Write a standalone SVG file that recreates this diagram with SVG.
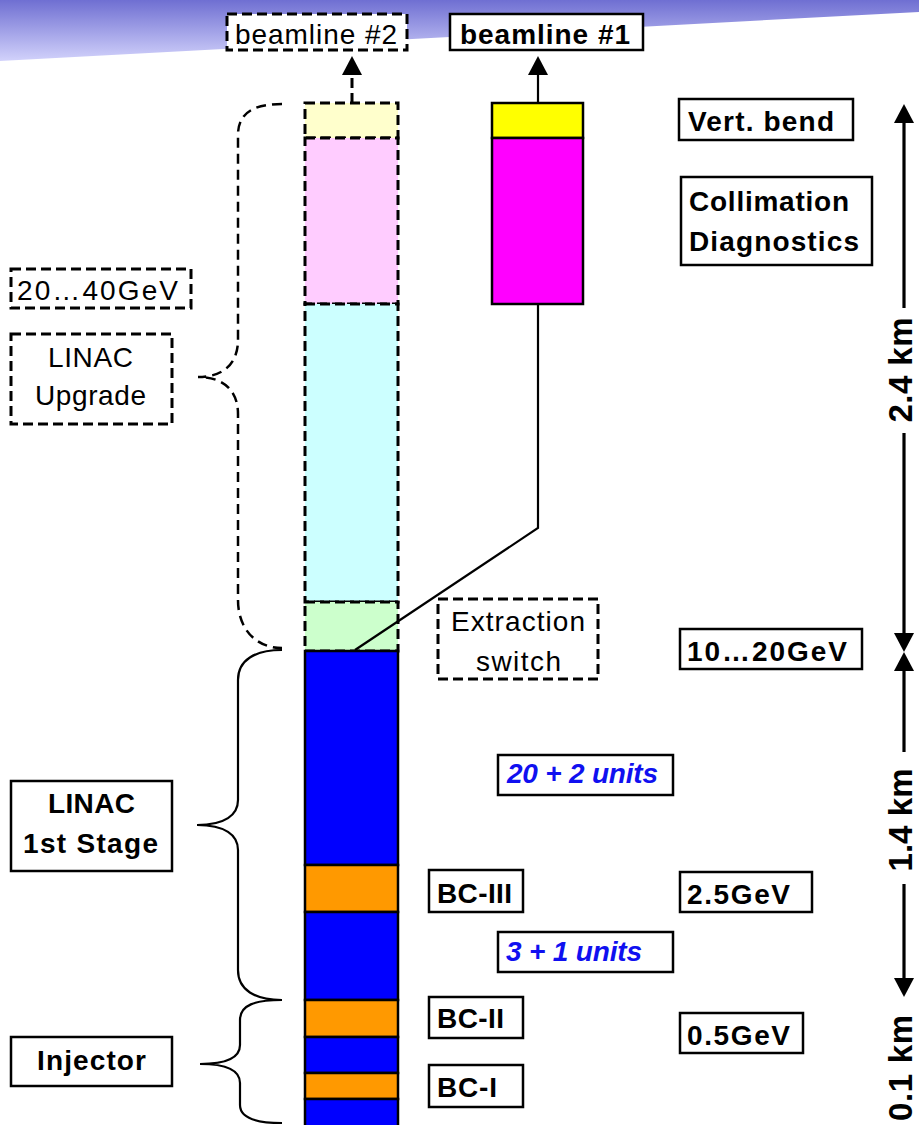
<svg xmlns="http://www.w3.org/2000/svg" width="919" height="1125" viewBox="0 0 919 1125">
  <defs>
    <linearGradient id="band" x1="0" y1="0" x2="0" y2="61" gradientUnits="userSpaceOnUse">
      <stop offset="0" stop-color="#6f6fd2"/>
      <stop offset="1" stop-color="#d2d2fb"/>
    </linearGradient>
    <marker id="head" viewBox="0 0 20 20" refX="0" refY="10" markerWidth="20" markerHeight="20" markerUnits="userSpaceOnUse" orient="auto">
      <path d="M0,0 L19,10 L0,20 z" fill="#000" stroke="none"/>
    </marker>
    <style>
      .seg { stroke: #000; stroke-width: 2.5; }
      .segd { stroke: #000; stroke-width: 3; stroke-dasharray: 10 5; }
      .box { fill: #fff; stroke: #000; stroke-width: 2.5; }
      .boxd { fill: #fff; stroke: #000; stroke-width: 3; stroke-dasharray: 10 5; }
      .lb { font-family: "Liberation Sans", Arial, sans-serif; font-weight: bold; font-size: 28px; fill: #000; }
      .lr { font-family: "Liberation Sans", Arial, sans-serif; font-size: 28px; fill: #000; }
      .lu { font-family: "Liberation Sans", Arial, sans-serif; font-weight: bold; font-style: italic; font-size: 28px; fill: #1010f0; }
      .dim { font-family: "Liberation Sans", Arial, sans-serif; font-weight: bold; font-size: 33px; fill: #000; }
      .conn { fill: none; stroke: #000; stroke-width: 2.2; }
      .connd { fill: none; stroke: #000; stroke-width: 3; stroke-dasharray: 10 5; }
      .brace { fill: none; stroke: #000; stroke-width: 2.2; }
      .braced { fill: none; stroke: #000; stroke-width: 2.5; stroke-dasharray: 10 6; }
      .dline { fill: none; stroke: #000; stroke-width: 3.2; }
    </style>
  </defs>

  <!-- slanted title band -->
  <polygon points="0,0 919,0 919,12 0,61" fill="url(#band)"/>

  <!-- main linac column -->
  <g id="column">
    <rect x="305" y="103" width="93" height="35" fill="#ffffcc" class="segd"/>
    <rect x="305" y="138" width="93" height="166" fill="#ffccff" class="segd"/>
    <rect x="305" y="304" width="93" height="298" fill="#ccffff" class="segd"/>
    <rect x="305" y="602" width="93" height="49" fill="#ccffcc" class="segd"/>
    <rect x="305" y="651" width="93" height="214" fill="#0000ff" class="seg"/>
    <rect x="305" y="865" width="93" height="47" fill="#ff9900" class="seg"/>
    <rect x="305" y="912" width="93" height="88" fill="#0000ff" class="seg"/>
    <rect x="305" y="1000" width="93" height="37" fill="#ff9900" class="seg"/>
    <rect x="305" y="1037" width="93" height="36" fill="#0000ff" class="seg"/>
    <rect x="305" y="1073" width="93" height="26" fill="#ff9900" class="seg"/>
    <rect x="305" y="1099" width="93" height="30" fill="#0000ff" class="seg"/>
  </g>

  <!-- beamline #1 branch -->
  <g id="branch1">
    <rect x="492" y="103" width="91" height="35" fill="#ffff00" class="seg"/>
    <rect x="492" y="138" width="91" height="166" fill="#ff00ff" class="seg"/>
  </g>

  <!-- connectors -->
  <g id="connectors">
    <line x1="352" y1="103" x2="352" y2="75" class="connd" marker-end="url(#head)"/>
    <line x1="538" y1="103" x2="538" y2="75" class="conn" marker-end="url(#head)"/>
    <polyline points="538,304 538,528 355,650" class="conn"/>
  </g>

  <!-- braces -->
  <g id="braces">
    <path class="braced" d="M282,104 C255,104 238,112 238,135 L238,340 C238,362 225,377 198,377 C225,377 238,392 238,414 L238,600 C238,628 255,648 282,648"/>
    <path class="brace" d="M282,650 C255,650 238,660 238,680 L238,800 C238,815 225,825 197,825 C225,825 238,835 238,850 L238,970 C238,990 255,1000 282,1000"/>
    <path class="brace" d="M282,1000 C255,1000 240,1005 240,1020 L240,1045 C240,1057 228,1064 200,1064 C228,1064 240,1071 240,1083 L240,1105 C240,1118 255,1123 282,1123"/>
  </g>

  <!-- length scale -->
  <g id="scale">
    <line x1="904" y1="308" x2="904" y2="123" class="dline" marker-end="url(#head)"/>
    <line x1="904" y1="433" x2="904" y2="633" class="dline" marker-end="url(#head)"/>
    <line x1="904" y1="752" x2="904" y2="671" class="dline" marker-end="url(#head)"/>
    <line x1="904" y1="884" x2="904" y2="978" class="dline" marker-end="url(#head)"/>
    <text class="dim" transform="translate(912,370) rotate(-90)" text-anchor="middle" textLength="105" lengthAdjust="spacing">2.4 km</text>
    <text class="dim" transform="translate(912,820) rotate(-90)" text-anchor="middle" textLength="103" lengthAdjust="spacing">1.4 km</text>
    <text class="dim" transform="translate(912,1068) rotate(-90)" text-anchor="middle" textLength="106" lengthAdjust="spacing">0.1 km</text>
  </g>

  <g id="beamline2">
    <rect x="227" y="14" width="180" height="36" class="boxd"/>
    <text class="lr" x="235" y="44" font-size="26" textLength="162" lengthAdjust="spacing">beamline #2</text>
  </g>
  <g id="beamline1">
    <rect x="450" y="14" width="193" height="36" class="box"/>
    <text class="lb" x="460" y="44" font-size="26" textLength="170" lengthAdjust="spacing">beamline #1</text>
  </g>

  <g id="vert-bend">
    <rect x="679" y="99" width="174" height="41" class="box"/>
    <text class="lb" x="688" y="131" textLength="146" lengthAdjust="spacing">Vert. bend</text>
  </g>
  <g id="collimation">
    <rect x="681" y="177" width="191" height="88" class="box"/>
    <text class="lb" x="689" y="211" textLength="160" lengthAdjust="spacing">Collimation</text>
    <text class="lb" x="689" y="251" textLength="170" lengthAdjust="spacing">Diagnostics</text>
  </g>

  <g id="energy-40">
    <rect x="11" y="269" width="180" height="39" class="boxd"/>
    <text class="lr" x="17" y="300" textLength="161" lengthAdjust="spacing">20…40GeV</text>
  </g>
  <g id="linac-upgrade">
    <rect x="11" y="334" width="161" height="90" class="boxd"/>
    <text class="lr" x="48" y="367" textLength="85" lengthAdjust="spacing">LINAC</text>
    <text class="lr" x="35" y="405" textLength="111" lengthAdjust="spacing">Upgrade</text>
  </g>

  <g id="extraction-switch">
    <rect x="438" y="599" width="160" height="80" class="boxd"/>
    <text class="lr" x="451" y="631" textLength="134" lengthAdjust="spacing">Extraction</text>
    <text class="lr" x="476" y="671" textLength="85" lengthAdjust="spacing">switch</text>
  </g>
  <g id="energy-20">
    <rect x="680" y="629" width="182" height="40" class="box"/>
    <text class="lb" x="687" y="661" textLength="160" lengthAdjust="spacing">10…20GeV</text>
  </g>

  <g id="units-22">
    <rect x="498" y="755" width="175" height="40" class="box"/>
    <text class="lu" x="507" y="783" textLength="151" lengthAdjust="spacing">20 + 2 units</text>
  </g>
  <g id="linac-stage1">
    <rect x="11" y="781" width="161" height="90" class="box"/>
    <text class="lb" x="48" y="813" textLength="87" lengthAdjust="spacing">LINAC</text>
    <text class="lb" x="23" y="853" textLength="135" lengthAdjust="spacing">1st Stage</text>
  </g>

  <g id="bc3">
    <rect x="429" y="870" width="94" height="42" class="box"/>
    <text class="lb" x="437" y="903" textLength="75" lengthAdjust="spacing">BC-III</text>
  </g>
  <g id="energy-2-5">
    <rect x="680" y="872" width="132" height="40" class="box"/>
    <text class="lb" x="687" y="904" textLength="103" lengthAdjust="spacing">2.5GeV</text>
  </g>
  <g id="units-4">
    <rect x="498" y="932" width="175" height="40" class="box"/>
    <text class="lu" x="506" y="961" textLength="136" lengthAdjust="spacing">3 + 1 units</text>
  </g>

  <g id="bc2">
    <rect x="429" y="997" width="94" height="41" class="box"/>
    <text class="lb" x="437" y="1028" textLength="67" lengthAdjust="spacing">BC-II</text>
  </g>
  <g id="energy-0-5">
    <rect x="680" y="1013" width="123" height="40" class="box"/>
    <text class="lb" x="687" y="1045" textLength="103" lengthAdjust="spacing">0.5GeV</text>
  </g>
  <g id="injector">
    <rect x="11" y="1037" width="161" height="49" class="box"/>
    <text class="lb" x="37" y="1070" textLength="109" lengthAdjust="spacing">Injector</text>
  </g>
  <g id="bc1">
    <rect x="429" y="1065" width="94" height="42" class="box"/>
    <text class="lb" x="437" y="1097" textLength="60" lengthAdjust="spacing">BC-I</text>
  </g>
</svg>
